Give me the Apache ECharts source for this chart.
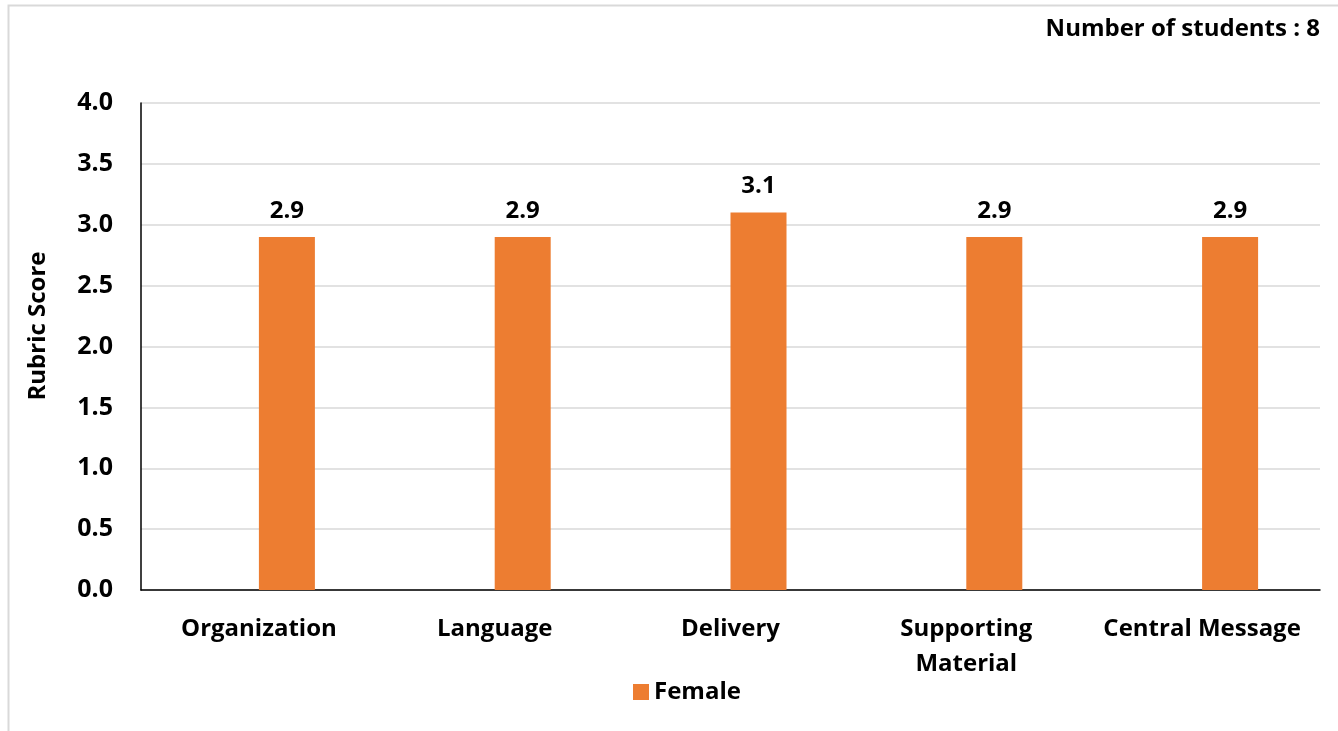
<!DOCTYPE html>
<html>
<head>
<meta charset="utf-8">
<script src="https://cdn.jsdelivr.net/npm/echarts@6/dist/echarts.min.js"></script>
<style>
  html, body { margin: 0; padding: 0; background: #fff; }
  #chart { width: 1338px; height: 731px; }
</style>
</head>
<body>
<div id="chart"></div>
<script>
// Rubric categories and mean scores
const categories = ['Organization', 'Language', 'Delivery', 'Supporting\nMaterial', 'Central Message'];
const maleScores = [null, null, null, null, null];   // no male students in this group
const femaleScores = [2.9, 2.9, 3.1, 2.9, 2.9];
const yTitle = 'Rubric Score';
const noteText = 'Number of students : 8';

const FONT = '"Open Sans", Lato, sans-serif';
const chart = echarts.init(document.getElementById('chart'));

chart.setOption({
  animation: false,
  textStyle: { fontFamily: FONT },
  graphic: [
    {
      type: 'rect',
      shape: { x: 8.5, y: 5.5, width: 1400, height: 800 },
      style: { fill: 'none', stroke: '#d9d9d9', lineWidth: 2 },
      silent: true
    },
    {
      type: 'text',
      right: 18,
      top: 17,
      style: { text: noteText, font: 'bold 24px ' + FONT, fill: '#000' }
    },
    {
      type: 'text',
      x: 38,
      y: 326,
      rotation: Math.PI / 2,
      style: {
        text: yTitle, font: 'bold 24px ' + FONT, fill: '#000',
        align: 'center', verticalAlign: 'middle'
      }
    }
  ],
  legend: {
    data: ['Female'],
    bottom: 22,
    left: 628,
    itemWidth: 16,
    itemHeight: 16,
    itemGap: 6,
    icon: 'rect',
    textStyle: { fontSize: 24, fontWeight: 'bold', color: '#000', fontFamily: FONT }
  },
  grid: { left: 141, right: 18, top: 103, bottom: 141 },
  xAxis: {
    type: 'category',
    data: categories,
    axisLine: { lineStyle: { color: '#000', width: 1.5 } },
    axisTick: { show: false },
    axisLabel: {
      color: '#000', fontSize: 24, fontWeight: 'bold', margin: 22,
      lineHeight: 35, interval: 0, fontFamily: FONT
    }
  },
  yAxis: {
    type: 'value',
    min: 0,
    max: 4,
    interval: 0.5,
    axisLine: { show: true, lineStyle: { color: '#000', width: 1.5 } },
    axisTick: { show: false },
    splitLine: { lineStyle: { color: '#d9d9d9', width: 1.5 } },
    axisLabel: {
      color: '#000', fontSize: 25, fontWeight: 'bold', margin: 28,
      formatter: v => v.toFixed(1), fontFamily: FONT
    }
  },
  series: [
    {
      name: 'Male',
      type: 'bar',
      data: maleScores,
      barWidth: 56,
      barGap: '0%',
      itemStyle: { color: '#4472C4' }
    },
    {
      name: 'Female',
      type: 'bar',
      data: femaleScores,
      barWidth: 56,
      barGap: '0%',
      itemStyle: { color: '#ED7D31' },
      label: {
        show: true,
        position: 'top',
        distance: 14,
        color: '#000',
        fontSize: 24,
        fontWeight: 'bold',
        fontFamily: FONT,
        formatter: p => p.value.toFixed(1)
      }
    }
  ]
});
</script>
</body>
</html>
